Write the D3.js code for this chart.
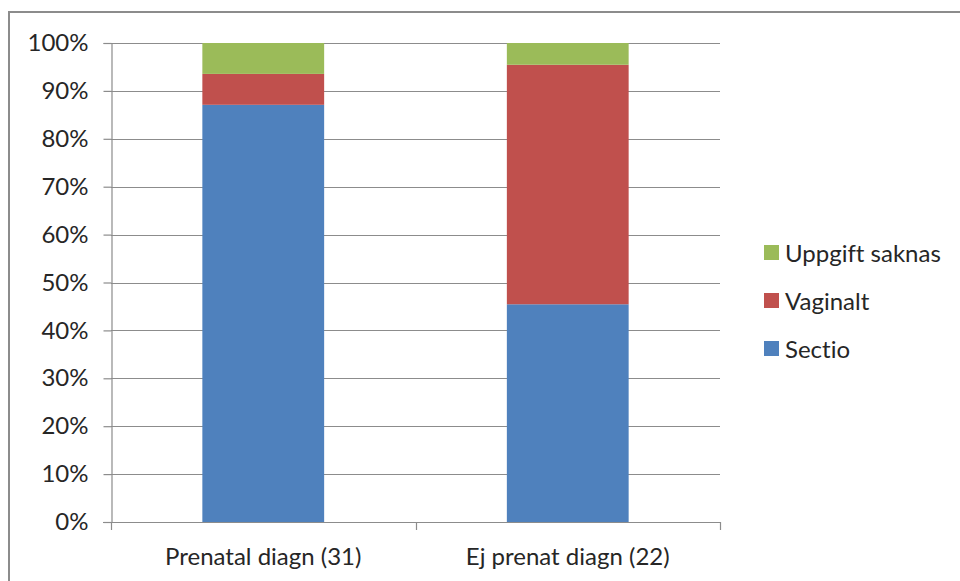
<!DOCTYPE html>
<html>
<head>
<meta charset="utf-8">
<script src="https://cdn.jsdelivr.net/npm/d3@7"></script>
<style>
  html, body { margin: 0; padding: 0; background: #fff; }
  svg { display: block; }
  text { font-family: Lato, "Open Sans", sans-serif; fill: #262626; font-variant-ligatures: none; }
</style>
</head>
<body>
<svg id="chart" width="960" height="581"></svg>
<script>
// Delivery method by diagnosis group (share of cases)
const categories = ["Prenatal diagn (31)", "Ej prenat diagn (22)"];
const seriesNames = ["Sectio", "Vaginalt", "Uppgift saknas"];
const sectio = [27 / 31, 10 / 22];
const vaginalt = [2 / 31, 11 / 22];
const uppgiftSaknas = [2 / 31, 1 / 22];
const yTicks = [0, 0.1, 0.2, 0.3, 0.4, 0.5, 0.6, 0.7, 0.8, 0.9, 1.0];
const colors = ["#4F81BD", "#C0504D", "#9BBB59"];

const svg = d3.select("#chart");
const W = 960, H = 581;
const fontSize = 24;

// outer chart frame
svg.append("rect")
  .attr("x", 9).attr("y", 12)
  .attr("width", W + 10).attr("height", H + 10)
  .attr("fill", "#fff").attr("stroke", "#8c8c8c").attr("stroke-width", 2);

const plot = { left: 111, right: 720, top: 43, bottom: 522 };

const x = d3.scaleBand()
  .domain(categories)
  .range([plot.left, plot.right])
  .paddingInner(0.6)
  .paddingOuter(0.3);

const y = d3.scaleLinear().domain([0, 1]).range([plot.bottom, plot.top]);

// horizontal gridlines
svg.append("g")
  .selectAll("line")
  .data(yTicks.filter(d => d > 0))
  .join("line")
  .attr("x1", plot.left).attr("x2", plot.right)
  .attr("y1", d => Math.round(y(d)) + 0.5).attr("y2", d => Math.round(y(d)) + 0.5)
  .attr("stroke", "#8c8c8c").attr("stroke-width", 1.2);

// stacked data
const rows = categories.map((c, i) => ({
  category: c,
  "Sectio": sectio[i],
  "Vaginalt": vaginalt[i],
  "Uppgift saknas": uppgiftSaknas[i]
}));
const stacked = d3.stack().keys(seriesNames)(rows);

svg.append("g")
  .selectAll("g")
  .data(stacked)
  .join("g")
  .attr("fill", (d, i) => colors[i])
  .selectAll("rect")
  .data(d => d)
  .join("rect")
  .attr("x", d => x(d.data.category))
  .attr("width", x.bandwidth())
  .attr("y", d => y(d[1]))
  .attr("height", d => y(d[0]) - y(d[1]));

// y axis
const yAxis = d3.axisLeft(y)
  .tickValues(yTicks)
  .tickFormat(d3.format(".0%"))
  .tickSize(8)
  .tickPadding(15);
const gy = svg.append("g")
  .attr("transform", `translate(${plot.left + 0.5},0)`)
  .call(yAxis);
gy.select(".domain").attr("stroke", "#8c8c8c").attr("stroke-width", 1.2);
gy.selectAll(".tick line").attr("stroke", "#8c8c8c").attr("stroke-width", 1.2);
gy.selectAll(".tick text")
  .attr("font-size", fontSize)
  .style("font-family", "Lato, 'Open Sans', sans-serif")
  .attr("fill", "#262626");

// x axis: baseline with ticks at category boundaries
const gx = svg.append("g");
gx.append("line")
  .attr("x1", plot.left - 8).attr("x2", plot.right)
  .attr("y1", plot.bottom + 0.5).attr("y2", plot.bottom + 0.5)
  .attr("stroke", "#8c8c8c").attr("stroke-width", 1.2);
const step = (plot.right - plot.left) / categories.length;
gx.selectAll("line.tk")
  .data(d3.range(categories.length + 1))
  .join("line")
  .attr("class", "tk")
  .attr("x1", i => Math.round(plot.left + i * step) + 0.5)
  .attr("x2", i => Math.round(plot.left + i * step) + 0.5)
  .attr("y1", plot.bottom).attr("y2", plot.bottom + 8)
  .attr("stroke", "#8c8c8c").attr("stroke-width", 1.2);
gx.selectAll("text")
  .data(categories)
  .join("text")
  .attr("x", d => x(d) + x.bandwidth() / 2)
  .attr("y", 557)
  .attr("dy", "0.35em")
  .attr("text-anchor", "middle")
  .attr("font-size", fontSize)
  .text(d => d);

// legend (top entry is the top stack segment)
const legendItems = seriesNames.map((n, i) => ({ name: n, color: colors[i] })).reverse();
const lg = svg.append("g").attr("transform", "translate(764,245)");
const li = lg.selectAll("g")
  .data(legendItems)
  .join("g")
  .attr("transform", (d, i) => `translate(0,${i * 48})`);
li.append("rect")
  .attr("width", 15).attr("height", 15)
  .attr("fill", d => d.color);
li.append("text")
  .attr("x", 21).attr("y", 8)
  .attr("dy", "0.36em")
  .attr("font-size", fontSize)
  .text(d => d.name);
</script>
</body>
</html>
